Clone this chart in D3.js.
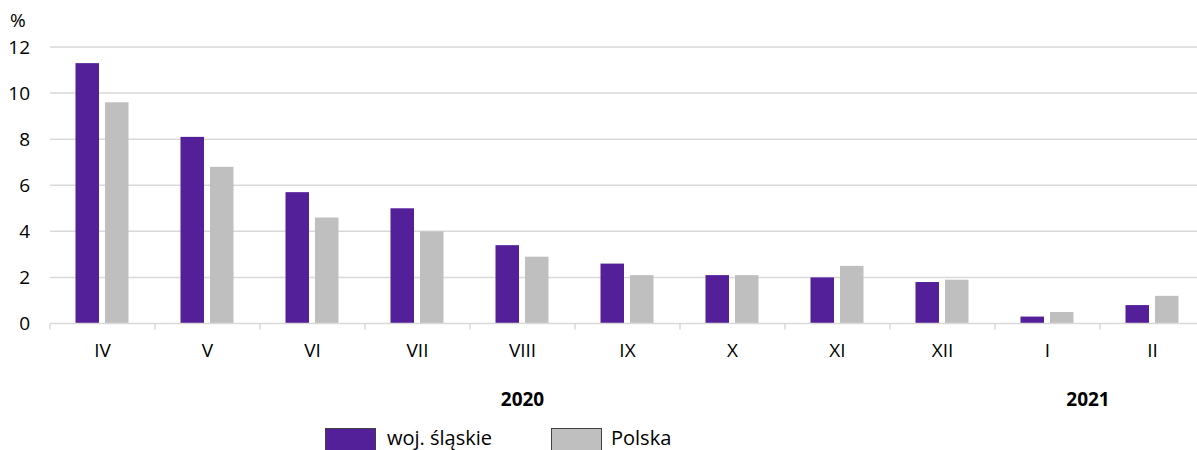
<!DOCTYPE html>
<html>
<head>
<meta charset="utf-8">
<script src="https://cdn.jsdelivr.net/npm/d3@7"></script>
<style>
  body { margin: 0; background: #fff; }
  svg text { font-family: "Open Sans", "Noto Sans", sans-serif; fill: #000; }
</style>
</head>
<body>
<svg id="chart" width="1197" height="450"></svg>
<script>
// data
const months = ["IV", "V", "VI", "VII", "VIII", "IX", "X", "XI", "XII", "I", "II"];
const slaskie = [11.3, 8.1, 5.7, 5.0, 3.4, 2.6, 2.1, 2.0, 1.8, 0.3, 0.8];
const polska = [9.6, 6.8, 4.6, 4.0, 2.9, 2.1, 2.1, 2.5, 1.9, 0.5, 1.2];
const yTicks = [0, 2, 4, 6, 8, 10, 12];
const years = [{ label: "2020", from: "IV", to: "XII" }, { label: "2021", from: "I", to: "II" }];
const seriesNames = ["woj. śląskie", "Polska"];
const colors = ["#53209a", "#bfbfbf"];

const svg = d3.select("#chart");
const plotLeft = 50, plotRight = 1205, plotTop = 47, plotBottom = 323.5;

const x = d3.scaleBand().domain(months).range([plotLeft, plotRight]);
const y = d3.scaleLinear().domain([0, 12]).range([plotBottom, plotTop]);
const barW = 23.5;

// gridlines
svg.append("g").selectAll("line")
  .data(yTicks.filter(d => d > 0))
  .enter().append("line")
  .attr("x1", plotLeft).attr("x2", 1197)
  .attr("y1", d => y(d)).attr("y2", d => y(d))
  .style("stroke", "#d9d9d9").style("stroke-width", 1.5);

// y labels
svg.append("g").selectAll("text")
  .data(yTicks)
  .enter().append("text")
  .attr("x", 30).attr("y", d => y(d))
  .attr("dy", "0.35em")
  .attr("text-anchor", "end")
  .style("font-size", "19px")
  .text(d => d);

svg.append("text").attr("x", 10).attr("y", 27).style("font-size", "19px").text("%");

// bars
const seriesData = [slaskie, polska];
seriesData.forEach((vals, si) => {
  svg.append("g").selectAll("rect")
    .data(vals)
    .enter().append("rect")
    .attr("x", (d, i) => x(months[i]) + 25.5 + si * 29.5)
    .attr("y", d => y(d))
    .attr("width", barW)
    .attr("height", d => plotBottom - y(d))
    .style("fill", colors[si]);
});

// x axis line and ticks
svg.append("line")
  .attr("x1", plotLeft).attr("x2", 1197)
  .attr("y1", plotBottom).attr("y2", plotBottom)
  .style("stroke", "#d9d9d9").style("stroke-width", 1.5);

svg.append("g").selectAll("line")
  .data(months)
  .enter().append("line")
  .attr("x1", d => x(d)).attr("x2", d => x(d))
  .attr("y1", plotBottom).attr("y2", plotBottom + 6)
  .style("stroke", "#d9d9d9").style("stroke-width", 1.5);

svg.append("g").selectAll("text")
  .data(months)
  .enter().append("text")
  .attr("x", d => x(d) + x.bandwidth() / 2)
  .attr("y", 350)
  .attr("dy", "0.35em")
  .attr("text-anchor", "middle")
  .style("font-size", "19px")
  .text(d => d);

// year labels
svg.append("g").selectAll("text")
  .data(years)
  .enter().append("text")
  .attr("x", d => Math.min((x(d.from) + x(d.to) + x.bandwidth()) / 2, 1088))
  .attr("y", 399)
  .attr("dy", "0.35em")
  .attr("text-anchor", "middle")
  .style("font-size", "19px")
  .style("font-weight", "bold")
  .text(d => d.label);

// legend
const legendX = [325, 551];
const lg = svg.append("g").selectAll("g")
  .data(seriesNames)
  .enter().append("g")
  .attr("transform", (d, i) => `translate(${legendX[i]},428)`);
lg.append("rect")
  .attr("x", 0.5).attr("y", 0.5)
  .attr("width", 50).attr("height", 22)
  .style("fill", (d, i) => colors[i])
  .style("stroke", "#404040").style("stroke-width", 1);
lg.append("text")
  .attr("x", (d, i) => i === 0 ? 62 : 60)
  .attr("y", 10)
  .attr("dy", "0.35em")
  .style("font-size", "20px")
  .text(d => d);
</script>
</body>
</html>
